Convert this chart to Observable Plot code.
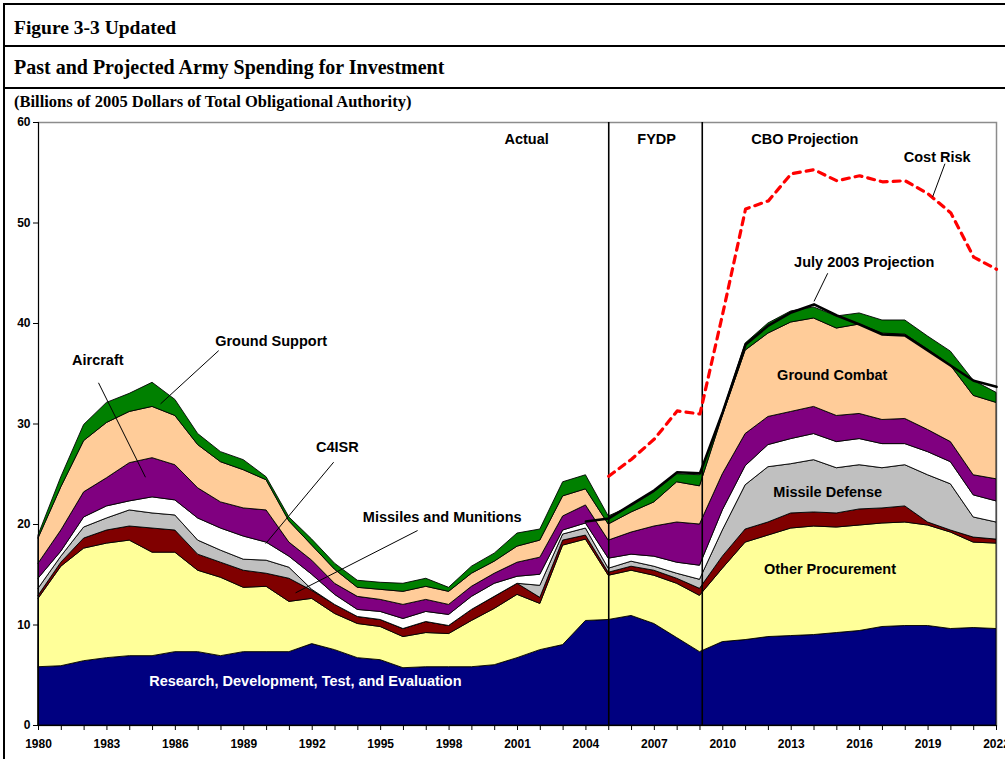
<!DOCTYPE html>
<html>
<head>
<meta charset="utf-8">
<script src="https://cdn.jsdelivr.net/npm/d3@7"></script>
<script src="https://cdn.jsdelivr.net/npm/@observablehq/plot@0.6"></script>
<style>
  html, body { margin: 0; padding: 0; background: #fff; }
  body { width: 1005px; height: 759px; overflow: hidden; position: relative; }
  #frame { position: absolute; left: 3px; top: 3px; width: 1100px; height: 900px; border: 2px solid #000; pointer-events: none; z-index: 5; box-sizing: border-box; }
  .hdr { position: absolute; left: 14px; font-weight: bold; font-family: "Liberation Serif", "Times New Roman", serif; white-space: nowrap; line-height: 1; color: #000; }
  .rule { position: absolute; left: 3px; width: 1100px; height: 2px; background: #000; }
  #chart { position: absolute; left: 0; top: 112px; }
</style>
</head>
<body>
<div id="frame"></div>
<div class="hdr" style="top:18px;font-size:19.5px;">Figure 3-3 Updated</div>
<div class="rule" style="top:45px;"></div>
<div class="hdr" style="top:57px;font-size:20px;">Past and Projected Army Spending for Investment</div>
<div class="rule" style="top:87px;"></div>
<div class="hdr" style="top:94px;font-size:16.5px;">(Billions of 2005 Dollars of Total Obligational Authority)</div>
<div id="chart"></div>
<script>
// ---------- data ----------
const years = d3.range(1980, 2023);
const categories = [
  "Research, Development, Test, and Evaluation",
  "Other Procurement",
  "Missiles and Munitions",
  "Missile Defense",
  "C4ISR",
  "Aircraft",
  "Ground Combat",
  "Ground Support"
];
const colors = ["#000080", "#FFFF99", "#800000", "#C0C0C0", "#FFFFFF", "#800080", "#FFCC99", "#008000"];

const rdte = [5.8,5.9,6.4,6.7,6.9,6.9,7.3,7.3,6.9,7.3, 7.3,7.3,8.1,7.5,6.7,6.5,5.7,5.8,5.8,5.8, 6.0,6.7,7.5,8.0,10.4,10.5,10.9,10.1,8.7,7.3, 8.3,8.5,8.8,8.9,9.0,9.2,9.4,9.8,9.9,9.9, 9.6,9.7,9.6];
const otherProcurement = [6.8,9.9,11.2,11.4,11.5,10.3,9.9,8.1,7.8,6.4, 6.5,5.0,4.5,3.6,3.4,3.3,3.1,3.4,3.3,4.6, 5.6,6.3,4.6,9.9,8.1,4.4,4.5,4.8,5.4,5.6, 7.3,9.7,10.1,10.7,10.8,10.5,10.5,10.3,10.3,10.0, 9.6,8.5,8.5];
const missilesMunitions = [0.3,0.4,1.0,1.3,1.4,2.4,2.2,1.6,1.5,1.7, 1.3,2.3,0.8,0.9,0.7,0.7,0.8,1.1,0.8,1.1, 1.2,1.1,0.6,0.5,0.4,0.3,0.4,0.5,0.5,0.7, 1.2,1.3,1.3,1.5,1.4,1.4,1.6,1.5,1.6,0.3, 0.2,0.5,0.4];
const missileDefense = [0.7,0.6,1.1,1.2,1.6,1.5,1.5,1.4,1.2,1.1, 1.3,1.1,0.1,0,0,0,0,0,0,0, 0,0,1.2,0.6,0.7,0.4,0.5,0.4,0.5,0.9, 2.6,4.4,5.5,4.9,5.2,4.5,4.4,4.0,4.1,4.7, 4.6,2.0,1.7];
const c4isr = [1.0,0.5,1.0,1.2,0.9,1.6,1.5,2.2,2.2,2.3, 1.8,1.1,1.5,1.0,0.7,0.8,1.0,1.0,1.1,1.3, 1.3,0.7,1.1,0.4,0.5,1.0,0.7,1.0,1.1,1.4, 2.0,1.9,2.2,2.5,2.6,2.6,2.6,2.4,2.1,2.3, 2.2,2.2,2.1];
const aircraft = [1.5,2.1,2.5,2.8,3.8,3.9,3.5,3.0,2.6,2.8, 3.2,1.4,1.4,1.1,1.3,1.2,1.4,1.2,1.0,1.0, 1.0,1.4,1.7,1.4,1.8,1.8,2.2,3.0,4.0,4.1, 3.6,3.2,2.8,2.7,2.7,2.6,2.5,2.4,2.5,2.2, 2.0,2.0,2.2];
const groundCombat = [2.5,4.3,5.1,5.5,5.1,5.1,4.9,4.3,4.0,3.8, 3.0,2.1,1.5,1.4,0.9,1.0,1.3,1.3,1.3,1.3, 1.2,1.6,1.7,2.0,1.6,1.6,2.0,2.4,4.0,3.8, 5.8,8.3,8.3,8.9,8.8,8.7,8.9,8.6,8.4,8.0, 7.6,7.9,7.6];
const groundSupport = [0.3,1.0,1.6,2.0,1.8,2.4,1.6,1.1,1.0,1.0, 0.3,0.4,0.6,0.6,0.7,0.7,0.8,0.8,0.4,0.7, 0.8,1.3,1.1,1.4,1.4,0.8,0.6,1.0,0.8,1.1, 0.3,0.7,1.0,1.1,1.1,1.2,1.1,1.3,1.4,1.3, 1.4,1.5,1.0];

const julyYears = d3.range(2004, 2023);
const july2003 = [20.3,20.6,22.0,23.4,25.2,25.1,31.2,37.9,39.8,41.1,41.9,40.8,39.9,38.9,38.8,37.3,35.8,34.3,33.7];

const riskYears = d3.range(2005, 2023);
const costRisk = [24.8,26.5,28.5,31.3,31.0,41.0,51.4,52.2,54.9,55.3,54.2,54.7,54.1,54.2,52.9,51.0,46.6,45.4];

const dividers = [2005, 2009.1];
const yTicks = [0, 10, 20, 30, 40, 50, 60];

const labels = [
  {x: 2001.4, y: 58.3, text: "Actual", fill: "#000"},
  {x: 2007.1, y: 58.3, text: "FYDP", fill: "#000"},
  {x: 2013.6, y: 58.3, text: "CBO Projection", fill: "#000"},
  {x: 2019.4, y: 56.5, text: "Cost Risk", fill: "#000"},
  {x: 2016.2, y: 46.1, text: "July 2003 Projection", fill: "#000"},
  {x: 2014.8, y: 34.8, text: "Ground Combat", fill: "#000"},
  {x: 2014.6, y: 23.2, text: "Missile Defense", fill: "#000"},
  {x: 2014.7, y: 15.5, text: "Other Procurement", fill: "#000"},
  {x: 1991.7, y: 4.4, text: "Research, Development, Test, and Evaluation", fill: "#fff"},
  {x: 1982.6, y: 36.3, text: "Aircraft", fill: "#000"},
  {x: 1990.2, y: 38.2, text: "Ground Support", fill: "#000"},
  {x: 1993.1, y: 27.7, text: "C4ISR", fill: "#000"},
  {x: 1997.7, y: 20.7, text: "Missiles and Munitions", fill: "#000"}
];
const leaders = [
  {x1: 1982.63, y1: 34.1, x2: 1984.69, y2: 24.7},
  {x1: 1987.9, y1: 37.3, x2: 1985.35, y2: 32.0},
  {x1: 1992.94, y1: 26.2, x2: 1989.96, y2: 18.1},
  {x1: 1996.62, y1: 19.4, x2: 1991.27, y2: 13.2},
  {x1: 2019.74, y1: 55.9, x2: 2019.2, y2: 52.6},
  {x1: 2014.6, y1: 45.0, x2: 2014.0, y2: 42.2}
];

// ---------- build tidy tables ----------
const seriesValues = [rdte, otherProcurement, missilesMunitions, missileDefense, c4isr, aircraft, groundCombat, groundSupport];
const stackData = [];
seriesValues.forEach((vals, k) => years.forEach((yr, i) => stackData.push({category: categories[k], year: yr, value: vals[i]})));
const julyData = julyYears.map((yr, i) => ({year: yr, value: july2003[i]}));
const riskData = riskYears.map((yr, i) => ({year: yr, value: costRisk[i]}));

const sans = "'Liberation Sans', Arial, sans-serif";

const chart = Plot.plot({
  width: 1005,
  height: 647,
  marginTop: 10,
  marginBottom: 34,
  marginLeft: 38,
  marginRight: 9,
  style: {background: "transparent", fontFamily: sans, overflow: "visible"},
  x: {domain: [1980, 2022]},
  y: {domain: [0, 60]},
  color: {domain: categories, range: colors},
  marks: [
    Plot.frame({stroke: "#8c8c8c", strokeWidth: 1.5}),
    Plot.areaY(stackData, {x: "year", y: "value", z: "category", fill: "category", stroke: "#000", strokeWidth: 0.9}),
    Plot.ruleX(dividers, {y1: 0, y2: 60, stroke: "#000", strokeWidth: 1.6}),
    Plot.line(riskData, {x: "year", y: "value", stroke: "#FF0000", strokeWidth: 3.2, strokeDasharray: "7,6"}),
    Plot.line(julyData, {x: "year", y: "value", stroke: "#000", strokeWidth: 2.6}),
    Plot.link(leaders, {x1: "x1", y1: "y1", x2: "x2", y2: "y2", stroke: "#000", strokeWidth: 1}),
    Plot.text(labels, {x: "x", y: "y", text: "text", fill: "fill", fontSize: 14.5, fontWeight: "bold", fontFamily: sans}),
    Plot.ruleX([1980], {stroke: "#000", strokeWidth: 1}),
    Plot.ruleY([0], {stroke: "#000", strokeWidth: 1}),
    Plot.axisY({ticks: yTicks, tickSize: 5, tickPadding: 3, label: null, fontSize: 12, fontWeight: "bold", fontFamily: sans}),
    Plot.axisX({ticks: years, tickSize: 5, tickPadding: 9, label: null, tickFormat: d => ((d - 1980) % 3 === 0 ? String(d) : ""), fontSize: 12, fontWeight: "bold", fontFamily: sans})
  ]
});
document.getElementById("chart").appendChild(chart);
</script>
</body>
</html>
